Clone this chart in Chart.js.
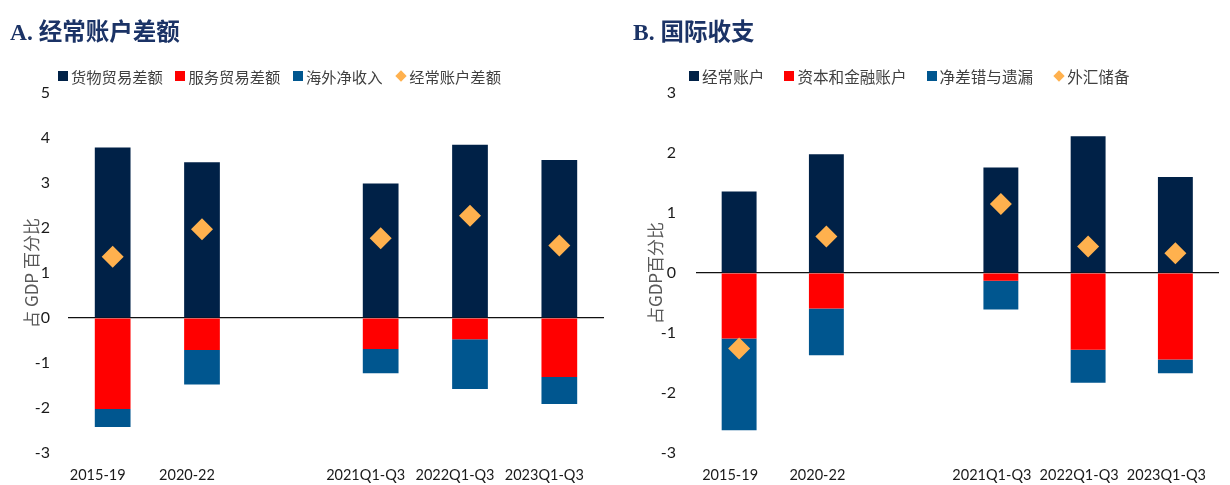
<!DOCTYPE html>
<html><head><meta charset="utf-8">
<script src="https://cdn.jsdelivr.net/npm/chart.js@4.4.1/dist/chart.umd.min.js"></script>
<style>
html,body{margin:0;padding:0;background:#fff;}
#wrap{position:relative;width:1230px;height:485px;overflow:hidden;background:#fff;}
canvas{position:absolute;top:0;}
.title{position:absolute;top:14px;font-weight:bold;color:#1B3366;font-size:23.5px;white-space:nowrap;line-height:32px;z-index:2;}
.title .l{font-family:"Liberation Serif","DejaVu Serif",serif;}
.title .c{font-family:"Noto Sans CJK SC",sans-serif;}
.legend{position:absolute;top:66px;height:20px;display:flex;align-items:center;font-family:"Noto Sans CJK SC",sans-serif;color:#404040;white-space:nowrap;z-index:2;}
.item{display:flex;align-items:center;}
.sq{width:10px;height:10px;margin-right:3px;}
.dm{width:8px;height:8px;transform:rotate(45deg);margin:0 4px 0 2px;}
</style>
</head><body>
<div id="wrap">
  <canvas id="cA" width="615" height="485" style="left:0;width:615px;height:485px"></canvas>
  <canvas id="cB" width="615" height="485" style="left:615px;width:615px;height:485px"></canvas>
  <div class="title" style="left:10px"><span class="l">A. </span><span class="c">经常账户差额</span></div>
  <div class="title" style="left:633px"><span class="l">B. </span><span class="c">国际收支</span></div>
  <div class="legend" id="legA" style="left:58px;font-size:15.3px"></div>
  <div class="legend" id="legB" style="left:689px;font-size:15.6px"></div>
</div>
<script>
// ---- data ----
const categories = ['2015-19', '2020-22', '', '2021Q1-Q3', '2022Q1-Q3', '2023Q1-Q3'];

// Panel A: current account balance (% of GDP)
const seriesNamesA = ['货物贸易差额', '服务贸易差额', '海外净收入', '经常账户差额'];
const goodsA    = [3.79, 3.46, null, 2.99, 3.85, 3.51];
const servicesA = [-2.02, -0.71, null, -0.69, -0.47, -1.31];
const incomeA   = [-0.40, -0.77, null, -0.54, -1.11, -0.60];
const currentA  = [1.36, 1.97, null, 1.77, 2.27, 1.61];
const yTicksA = {min: -3, max: 5, step: 1};

// Panel B: balance of payments (% of GDP)
const seriesNamesB = ['经常账户', '资本和金融账户', '净差错与遗漏', '外汇储备'];
const currentB  = [1.36, 1.98, null, 1.76, 2.28, 1.60];
const capitalB  = [-1.09, -0.59, null, -0.13, -1.28, -1.44];
const errorsB   = [-1.53, -0.78, null, -0.48, -0.55, -0.23];
const reservesB = [-1.26, 0.61, null, 1.15, 0.44, 0.33];
const yTicksB = {min: -3, max: 3, step: 1};

const yTitleA = '占 GDP 百分比';
const yTitleB = '占GDP百分比';

// ---- styles ----
const C_NAVY = '#002147', C_RED = '#FF0000', C_BLUE = '#00568F', C_ORANGE = '#FFB14E';
Chart.defaults.font.family = 'Lato, "Noto Sans", sans-serif';

function buildLegend(el, names, gap) {
  const cols = [C_NAVY, C_RED, C_BLUE, C_ORANGE];
  names.forEach((n, i) => {
    const it = document.createElement('div');
    it.className = 'item';
    if (i < names.length - 1) it.style.marginRight = gap + 'px';
    const m = document.createElement('span');
    m.className = i === 3 ? 'dm' : 'sq';
    m.style.background = cols[i];
    const t = document.createElement('span');
    t.textContent = n;
    it.appendChild(m); it.appendChild(t);
    el.appendChild(it);
  });
}
buildLegend(document.getElementById('legA'), seriesNamesA, 12.7);
buildLegend(document.getElementById('legB'), seriesNamesB, 20);

function makeChart(id, names, b1, b2, b3, pts, yt, yTitle, o) {
  return new Chart(document.getElementById(id), {
    type: 'bar',
    data: {
      labels: categories,
      datasets: [
        {type: 'line', label: names[3], data: pts, showLine: false, stack: 'pts', order: 0,
         pointStyle: 'rectRot', pointRadius: 11, pointHoverRadius: 11, pointBorderWidth: 0,
         pointBackgroundColor: C_ORANGE, backgroundColor: C_ORANGE, borderColor: C_ORANGE},
        {label: names[0], data: b1, backgroundColor: C_NAVY, stack: 's', order: 1, barPercentage: 0.4, categoryPercentage: 1},
        {label: names[1], data: b2, backgroundColor: C_RED, stack: 's', order: 1, barPercentage: 0.4, categoryPercentage: 1},
        {label: names[2], data: b3, backgroundColor: C_BLUE, stack: 's', order: 1, barPercentage: 0.4, categoryPercentage: 1}
      ]
    },
    options: {
      responsive: false, animation: false, devicePixelRatio: 1,
      layout: {padding: {top: 93, right: o.padRight, left: 0, bottom: 0}},
      plugins: {legend: {display: false}, tooltip: {enabled: false}},
      scales: {
        x: {
          stacked: true, offset: true,
          grid: {display: false}, border: {display: false},
          ticks: {autoSkip: false, maxRotation: 0, minRotation: 0, padding: 6, labelOffset: o.labelOffset,
                  color: '#1a1a1a', font: {size: 14.5}},
          afterFit: s => { s.height = 32; }
        },
        y: {
          stacked: true, min: yt.min, max: yt.max,
          ticks: {stepSize: yt.step, padding: o.tickPad, color: '#1a1a1a', font: {size: 16}},
          grid: {drawTicks: false, lineWidth: 1.2, color: c => c.tick && c.tick.value === 0 ? '#111' : 'rgba(0,0,0,0)'},
          border: {display: false},
          title: {display: true, text: yTitle, color: '#595959', padding: {top: o.titlePad, bottom: 0},
                  font: {family: '"Noto Sans CJK SC", sans-serif', size: 17}},
          afterFit: s => { s.width = o.yWidth; }
        }
      }
    }
  });
}

makeChart('cA', seriesNamesA, goodsA, servicesA, incomeA, currentA, yTicksA, yTitleA,
  {padRight: 9, yWidth: 68, tickPad: 18, titlePad: 21, labelOffset: -15});
makeChart('cB', seriesNamesB, currentB, capitalB, errorsB, reservesB, yTicksB, yTitleB,
  {padRight: 0, yWidth: 80.5, tickPad: 19.5, titlePad: 30, labelOffset: -9});
</script>
</body></html>
